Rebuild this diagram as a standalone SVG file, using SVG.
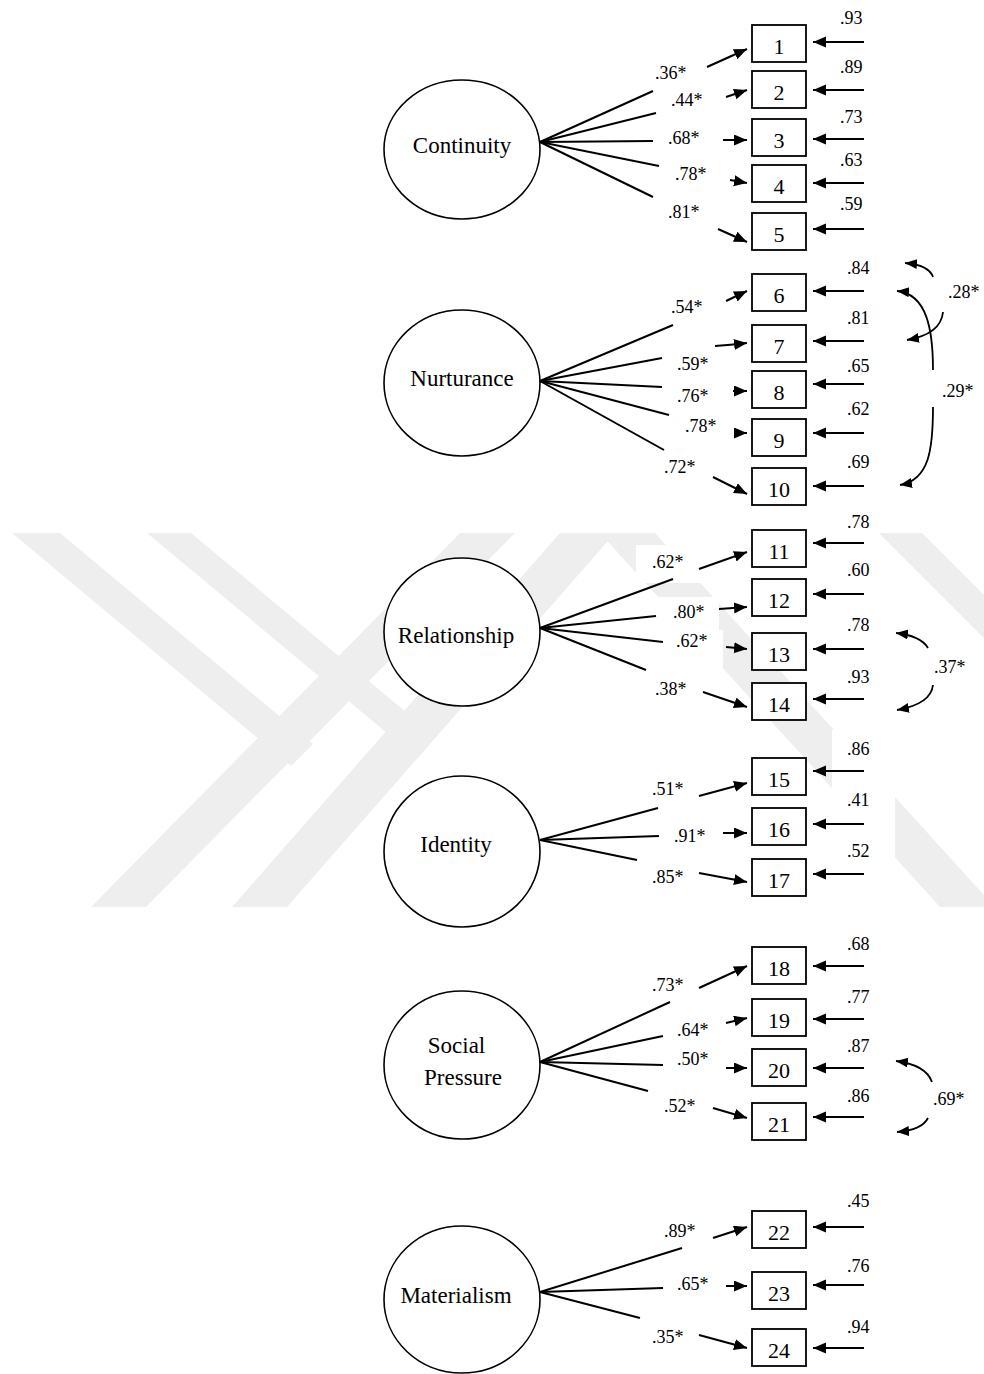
<svg xmlns="http://www.w3.org/2000/svg" width="984" height="1374" viewBox="0 0 984 1374">
<style>
.lat{fill:#fff;stroke:#000;stroke-width:1.6}
.box{fill:#fff;stroke:#000;stroke-width:1.8}
.ln{stroke:#000;stroke-width:2;fill:none}
.ar{stroke:#000;stroke-width:2;fill:none;marker-end:url(#ah)}
.cv{stroke:#000;stroke-width:1.8;fill:none;marker-end:url(#ah2)}
.lt{font-family:"Liberation Serif","Times New Roman",serif;font-size:23px;fill:#000;text-anchor:middle}
.bn{font-family:"Liberation Serif","Times New Roman",serif;font-size:22px;fill:#000;text-anchor:middle}
.lb{font-family:"Liberation Serif","Times New Roman",serif;font-size:18px;fill:#000}
.wm{fill:#eeeeee}
.wb{fill:#fff}
</style>
<defs>
<marker id="ah" markerUnits="userSpaceOnUse" markerWidth="14" markerHeight="12" refX="13" refY="5.5" orient="auto"><path d="M0,0 L13,5.5 L0,11 z" fill="#000"/></marker>
<marker id="ah2" markerUnits="userSpaceOnUse" markerWidth="13" markerHeight="11" refX="12" refY="5" orient="auto"><path d="M0,0 L12,5 L0,10 z" fill="#000"/></marker>
</defs>
<rect width="984" height="1374" fill="#fff"/>

<g id="watermark">
<polygon class="wm" points="12,533 60,533 313,744 291,766"/>
<polygon class="wm" points="460,533 515,533 146,907 91,907"/>
<polygon class="wm" points="147,533 191,533 436,737 417,758"/>
<polygon class="wm" points="560,533 615,533 287,907 232,907"/>
<polygon class="wm" points="600,533 655,533 995,907 940,907"/>
<polygon class="wm" points="879,533 922,533 984,595 984,638"/>
<rect class="wb" x="636" y="545" width="64" height="38"/>
<rect class="wb" x="657" y="597" width="62" height="33"/>
<rect class="wb" x="663" y="630" width="60" height="37"/>
<rect class="wb" x="832" y="552" width="63" height="33"/>
<rect class="wb" x="640" y="772" width="58" height="35"/>
<rect class="wb" x="660" y="820" width="63" height="27"/>
<rect class="wb" x="832" y="730" width="63" height="100"/>
<rect class="wb" x="857" y="830" width="38" height="30"/>
</g>

<g id="latent-continuity"><ellipse class="lat" cx="462" cy="149.5" rx="78" ry="69.5"/><text class="lt" x="462" y="153">Continuity</text></g>
<g id="latent-nurturance"><ellipse class="lat" cx="462" cy="383" rx="78" ry="73"/><text class="lt" x="462" y="386">Nurturance</text></g>
<g id="latent-relationship"><ellipse class="lat" cx="462" cy="632" rx="78" ry="74"/><text class="lt" x="456" y="643">Relationship</text></g>
<g id="latent-identity"><ellipse class="lat" cx="462" cy="851.5" rx="78" ry="75.5"/><text class="lt" x="456" y="852">Identity</text></g>
<g id="latent-social"><ellipse class="lat" cx="462" cy="1065" rx="78" ry="74"/><text class="lt" x="456.5" y="1053">Social</text><text class="lt" x="463" y="1085">Pressure</text></g>
<g id="latent-materialism"><ellipse class="lat" cx="462" cy="1299.5" rx="78" ry="73.5"/><text class="lt" x="456" y="1303">Materialism</text></g>

<g id="items">
<g id="item1"><rect class="box" x="752" y="25" width="54" height="37"/><text class="bn" x="779" y="54">1</text></g>
<g id="item2"><rect class="box" x="752" y="71" width="54" height="37"/><text class="bn" x="779" y="100">2</text></g>
<g id="item3"><rect class="box" x="752" y="119" width="54" height="37"/><text class="bn" x="779" y="148">3</text></g>
<g id="item4"><rect class="box" x="752" y="165" width="54" height="37"/><text class="bn" x="779" y="194">4</text></g>
<g id="item5"><rect class="box" x="752" y="213" width="54" height="37"/><text class="bn" x="779" y="242">5</text></g>
<g id="item6"><rect class="box" x="752" y="274" width="54" height="37"/><text class="bn" x="779" y="303">6</text></g>
<g id="item7"><rect class="box" x="752" y="325" width="54" height="37"/><text class="bn" x="779" y="354">7</text></g>
<g id="item8"><rect class="box" x="752" y="371" width="54" height="37"/><text class="bn" x="779" y="400">8</text></g>
<g id="item9"><rect class="box" x="752" y="419" width="54" height="37"/><text class="bn" x="779" y="448">9</text></g>
<g id="item10"><rect class="box" x="752" y="468" width="54" height="37"/><text class="bn" x="779" y="497">10</text></g>
<g id="item11"><rect class="box" x="752" y="530" width="54" height="37"/><text class="bn" x="779" y="559">11</text></g>
<g id="item12"><rect class="box" x="752" y="579" width="54" height="37"/><text class="bn" x="779" y="608">12</text></g>
<g id="item13"><rect class="box" x="752" y="633" width="54" height="37"/><text class="bn" x="779" y="662">13</text></g>
<g id="item14"><rect class="box" x="752" y="683" width="54" height="37"/><text class="bn" x="779" y="712">14</text></g>
<g id="item15"><rect class="box" x="752" y="758" width="54" height="37"/><text class="bn" x="779" y="787">15</text></g>
<g id="item16"><rect class="box" x="752" y="808" width="54" height="37"/><text class="bn" x="779" y="837">16</text></g>
<g id="item17"><rect class="box" x="752" y="859" width="54" height="37"/><text class="bn" x="779" y="888">17</text></g>
<g id="item18"><rect class="box" x="752" y="947" width="54" height="37"/><text class="bn" x="779" y="976">18</text></g>
<g id="item19"><rect class="box" x="752" y="999" width="54" height="37"/><text class="bn" x="779" y="1028">19</text></g>
<g id="item20"><rect class="box" x="752" y="1049" width="54" height="37"/><text class="bn" x="779" y="1078">20</text></g>
<g id="item21"><rect class="box" x="752" y="1103" width="54" height="37"/><text class="bn" x="779" y="1132">21</text></g>
<g id="item22"><rect class="box" x="752" y="1211" width="54" height="37"/><text class="bn" x="779" y="1240">22</text></g>
<g id="item23"><rect class="box" x="752" y="1272" width="54" height="37"/><text class="bn" x="779" y="1301">23</text></g>
<g id="item24"><rect class="box" x="752" y="1329" width="54" height="37"/><text class="bn" x="779" y="1358">24</text></g>
</g>

<g id="connectors">
<line class="ln" x1="540" y1="142" x2="653" y2="91"/>
<line class="ln" x1="540" y1="142" x2="656" y2="113"/>
<line class="ln" x1="540" y1="142" x2="653" y2="141"/>
<line class="ln" x1="540" y1="142" x2="659" y2="166"/>
<line class="ln" x1="540" y1="142" x2="653" y2="197"/>
<line class="ar" x1="707" y1="67" x2="747" y2="49"/>
<line class="ar" x1="726" y1="97" x2="747" y2="90"/>
<line class="ar" x1="723" y1="140" x2="747" y2="140"/>
<line class="ar" x1="730" y1="180" x2="747" y2="183"/>
<line class="ar" x1="718" y1="229" x2="747" y2="242"/>
<line class="ln" x1="540" y1="381" x2="673" y2="325"/>
<line class="ln" x1="540" y1="381" x2="662" y2="358"/>
<line class="ln" x1="540" y1="381" x2="662" y2="387"/>
<line class="ln" x1="540" y1="381" x2="669" y2="415"/>
<line class="ln" x1="540" y1="381" x2="664" y2="450"/>
<line class="ar" x1="726" y1="301" x2="747" y2="291"/>
<path class="ar" d="M715,346 Q730,345 747,343"/>
<line class="ar" x1="733" y1="391" x2="747" y2="391"/>
<line class="ar" x1="735" y1="433" x2="747" y2="433"/>
<line class="ar" x1="713" y1="477" x2="747" y2="494"/>
<line class="ln" x1="540" y1="628" x2="673" y2="579"/>
<line class="ln" x1="540" y1="628" x2="656" y2="616"/>
<line class="ln" x1="540" y1="628" x2="663" y2="642"/>
<line class="ln" x1="540" y1="628" x2="646" y2="670"/>
<line class="ar" x1="699" y1="569" x2="747" y2="552"/>
<line class="ar" x1="719" y1="609" x2="747" y2="607"/>
<line class="ar" x1="726" y1="647" x2="747" y2="649"/>
<line class="ar" x1="703" y1="692" x2="747" y2="707"/>
<line class="ln" x1="540" y1="840" x2="658" y2="808"/>
<line class="ln" x1="540" y1="840" x2="659" y2="836"/>
<line class="ln" x1="540" y1="840" x2="637" y2="860"/>
<line class="ar" x1="699" y1="796" x2="747" y2="783"/>
<line class="ar" x1="723" y1="833" x2="747" y2="833"/>
<line class="ar" x1="699" y1="873" x2="747" y2="882"/>
<line class="ln" x1="540" y1="1062" x2="670" y2="1002"/>
<line class="ln" x1="540" y1="1062" x2="663" y2="1036"/>
<line class="ln" x1="540" y1="1062" x2="663" y2="1065"/>
<line class="ln" x1="540" y1="1062" x2="648" y2="1091"/>
<line class="ar" x1="699" y1="988" x2="747" y2="966"/>
<line class="ar" x1="726" y1="1023" x2="747" y2="1018"/>
<line class="ar" x1="726" y1="1068" x2="747" y2="1068"/>
<line class="ar" x1="713" y1="1108" x2="747" y2="1118"/>
<line class="ln" x1="540" y1="1292" x2="682" y2="1248"/>
<line class="ln" x1="540" y1="1292" x2="663" y2="1288"/>
<line class="ln" x1="540" y1="1292" x2="640" y2="1318"/>
<line class="ar" x1="713" y1="1238" x2="747" y2="1227"/>
<line class="ar" x1="726" y1="1286" x2="747" y2="1286"/>
<line class="ar" x1="699" y1="1335" x2="747" y2="1348"/>
<line class="ar" x1="864" y1="42" x2="813" y2="42"/>
<line class="ar" x1="864" y1="90" x2="813" y2="90"/>
<line class="ar" x1="864" y1="139" x2="813" y2="139"/>
<line class="ar" x1="864" y1="183" x2="813" y2="183"/>
<line class="ar" x1="864" y1="229" x2="813" y2="229"/>
<line class="ar" x1="864" y1="291" x2="813" y2="291"/>
<line class="ar" x1="864" y1="341" x2="813" y2="341"/>
<line class="ar" x1="864" y1="384" x2="813" y2="384"/>
<line class="ar" x1="864" y1="433" x2="813" y2="433"/>
<line class="ar" x1="864" y1="486" x2="813" y2="486"/>
<line class="ar" x1="864" y1="543" x2="813" y2="543"/>
<line class="ar" x1="864" y1="594" x2="813" y2="594"/>
<line class="ar" x1="864" y1="649" x2="813" y2="649"/>
<line class="ar" x1="864" y1="699" x2="813" y2="699"/>
<line class="ar" x1="864" y1="771" x2="813" y2="771"/>
<line class="ar" x1="864" y1="824" x2="813" y2="824"/>
<line class="ar" x1="864" y1="874" x2="813" y2="874"/>
<line class="ar" x1="864" y1="966" x2="813" y2="966"/>
<line class="ar" x1="864" y1="1019" x2="813" y2="1019"/>
<line class="ar" x1="864" y1="1068" x2="813" y2="1068"/>
<line class="ar" x1="864" y1="1117" x2="813" y2="1117"/>
<line class="ar" x1="864" y1="1227" x2="813" y2="1227"/>
<line class="ar" x1="864" y1="1285" x2="813" y2="1285"/>
<line class="ar" x1="864" y1="1348" x2="813" y2="1348"/>
<path class="cv" d="M933,277 Q929,265 905,263"/>
<path class="cv" d="M943,312 Q941,334 907,340"/>
<path class="cv" d="M933,370 C933,330 927,294 897,291"/>
<path class="cv" d="M933,407 C933,450 929,480 900,485"/>
<path class="cv" d="M928,648 Q921,636 896,633"/>
<path class="cv" d="M933,685 Q931,704 897,710"/>
<path class="cv" d="M932,1082 Q926,1065 896,1061"/>
<path class="cv" d="M928,1118 Q922,1130 897,1132"/>
</g>

<g id="labels">
<text class="lb" x="655" y="79">.36*</text>
<text class="lb" x="671" y="106">.44*</text>
<text class="lb" x="668" y="144">.68*</text>
<text class="lb" x="675" y="180">.78*</text>
<text class="lb" x="668" y="218">.81*</text>
<text class="lb" x="671" y="313">.54*</text>
<text class="lb" x="677" y="370">.59*</text>
<text class="lb" x="677" y="402">.76*</text>
<text class="lb" x="685" y="432">.78*</text>
<text class="lb" x="664" y="473">.72*</text>
<text class="lb" x="652" y="568">.62*</text>
<text class="lb" x="673" y="618">.80*</text>
<text class="lb" x="676" y="647">.62*</text>
<text class="lb" x="655" y="695">.38*</text>
<text class="lb" x="652" y="795">.51*</text>
<text class="lb" x="674" y="842">.91*</text>
<text class="lb" x="652" y="883">.85*</text>
<text class="lb" x="652" y="991">.73*</text>
<text class="lb" x="677" y="1036">.64*</text>
<text class="lb" x="677" y="1065">.50*</text>
<text class="lb" x="664" y="1112">.52*</text>
<text class="lb" x="664" y="1237">.89*</text>
<text class="lb" x="677" y="1290">.65*</text>
<text class="lb" x="652" y="1343">.35*</text>
<text class="lb" x="840" y="24">.93</text>
<text class="lb" x="840" y="73">.89</text>
<text class="lb" x="840" y="123">.73</text>
<text class="lb" x="840" y="166">.63</text>
<text class="lb" x="840" y="210">.59</text>
<text class="lb" x="847" y="274">.84</text>
<text class="lb" x="847" y="324">.81</text>
<text class="lb" x="847" y="372">.65</text>
<text class="lb" x="847" y="415">.62</text>
<text class="lb" x="847" y="468">.69</text>
<text class="lb" x="847" y="528">.78</text>
<text class="lb" x="847" y="576">.60</text>
<text class="lb" x="847" y="631">.78</text>
<text class="lb" x="847" y="683">.93</text>
<text class="lb" x="847" y="755">.86</text>
<text class="lb" x="847" y="806">.41</text>
<text class="lb" x="847" y="857">.52</text>
<text class="lb" x="847" y="950">.68</text>
<text class="lb" x="847" y="1003">.77</text>
<text class="lb" x="847" y="1052">.87</text>
<text class="lb" x="847" y="1102">.86</text>
<text class="lb" x="847" y="1207">.45</text>
<text class="lb" x="847" y="1272">.76</text>
<text class="lb" x="847" y="1333">.94</text>
<text class="lb" x="948" y="298">.28*</text>
<text class="lb" x="942" y="397">.29*</text>
<text class="lb" x="934" y="673">.37*</text>
<text class="lb" x="933" y="1105">.69*</text>
</g>
</svg>
